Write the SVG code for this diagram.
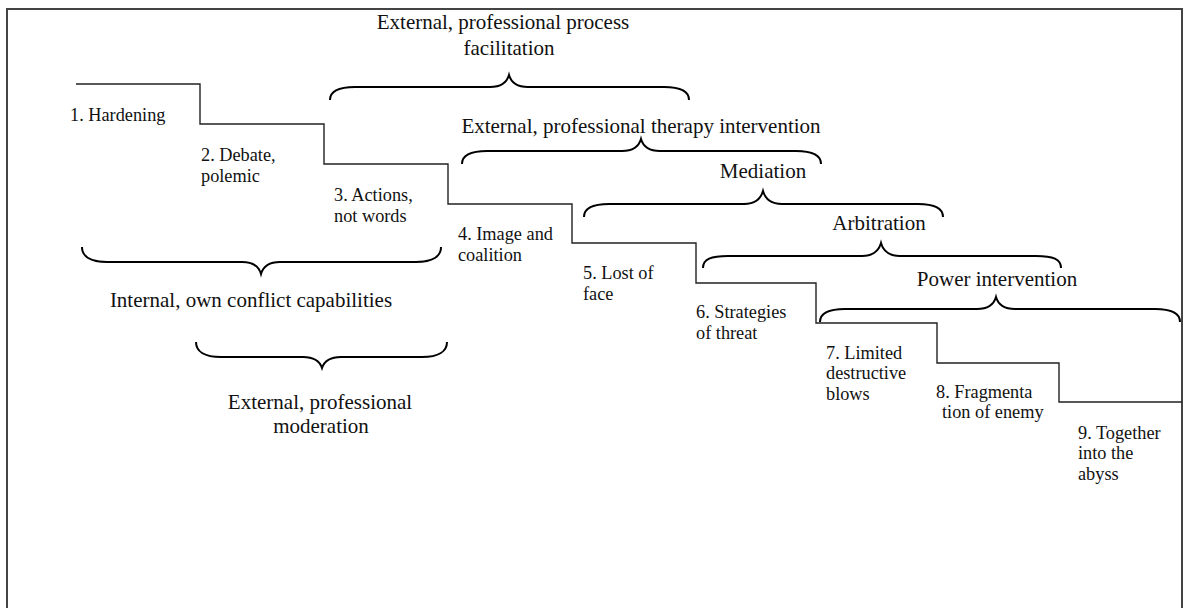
<svg xmlns="http://www.w3.org/2000/svg" width="1184" height="608" viewBox="0 0 1184 608">
<style>
.frame{fill:none;stroke:#444;stroke-width:2}
.stair{fill:none;stroke:#222;stroke-width:1.4}
.brace{fill:none;stroke:#000;stroke-width:2}
.big{font-family:"Liberation Serif","Times New Roman",serif;font-size:21px;fill:#111;text-anchor:middle}
.step{font-family:"Liberation Serif","Times New Roman",serif;font-size:18.3px;fill:#111}
</style>
<rect width="1184" height="608" fill="#fff"/>
<rect class="frame" x="7" y="9" width="1175" height="620"/>
<g id="connectors">
<path id="staircase" class="stair" d="M76,84 H200 V124 H324 V164 H448 V204 H572 V243 H696 V283 H816 V323 H937 V363 H1059 V402 H1182"/>
<path id="brace-process" class="brace" d="M330,100 C330,91 338,87 355,87 L490,87 C502,87 507,82 509,75 C511,82 516,87 528,87 L664,87 C681,87 689,91 689,100"/>
<path id="brace-therapy" class="brace" d="M462,164 C462,155 470,151 487,151 L622,151 C634,151 639,146 641,139 C643,146 648,151 660,151 L796,151 C813,151 821,155 821,164"/>
<path id="brace-mediation" class="brace" d="M584,217 C584,208 592,204 609,204 L744,204 C756,204 761,198 763,191 C765,198 770,204 782,204 L918,204 C935,204 943,208 943,217"/>
<path id="brace-arbitration" class="brace" d="M703,268 C703,259 711,256 728,256 L862,256 C874,256 879,250 881,243 C883,250 888,256 900,256 L1036,256 C1053,256 1061,259 1061,268"/>
<path id="brace-power" class="brace" d="M820,322 C820,313 828,309 845,309 L977,309 C989,309 994,304 996,297 C998,304 1003,309 1015,309 L1155,309 C1172,309 1180,313 1180,322"/>
<path id="brace-internal" class="brace" d="M82,247 C82,256 90,262 107,262 L242,262 C254,262 259,267 261,274 C263,267 268,262 280,262 L416,262 C433,262 441,256 441,247"/>
<path id="brace-moderation" class="brace" d="M196,342 C196,351 204,357 221,357 L303,357 C315,357 320,362 322,368 C324,362 329,357 341,357 L422,357 C439,357 447,351 447,342"/>
</g>
<g id="label-process"><text class="big" x="503" y="29">External, professional process</text><text class="big" x="509" y="55">facilitation</text></g>
<g id="label-therapy"><text class="big" x="641" y="133">External, professional therapy intervention</text></g>
<g id="label-mediation"><text class="big" x="763" y="178">Mediation</text></g>
<g id="label-arbitration"><text class="big" x="879" y="230">Arbitration</text></g>
<g id="label-power"><text class="big" x="997" y="286">Power intervention</text></g>
<g id="label-internal"><text class="big" x="251" y="307">Internal, own conflict capabilities</text></g>
<g id="label-moderation"><text class="big" x="320" y="409">External, professional</text><text class="big" x="321" y="433">moderation</text></g>
<g id="step1"><text class="step" x="70" y="121">1. Hardening</text></g>
<g id="step2"><text class="step" x="201" y="161">2. Debate,</text><text class="step" x="201" y="182">polemic</text></g>
<g id="step3"><text class="step" x="334" y="201">3. Actions,</text><text class="step" x="334" y="222">not words</text></g>
<g id="step4"><text class="step" x="458" y="240">4. Image and</text><text class="step" x="458" y="261">coalition</text></g>
<g id="step5"><text class="step" x="583" y="279">5. Lost of</text><text class="step" x="583" y="300">face</text></g>
<g id="step6"><text class="step" x="696" y="318">6. Strategies</text><text class="step" x="696" y="339">of threat</text></g>
<g id="step7"><text class="step" x="826" y="359">7. Limited</text><text class="step" x="826" y="379">destructive</text><text class="step" x="826" y="400">blows</text></g>
<g id="step8"><text class="step" x="936" y="398">8. Fragmenta</text><text class="step" x="942" y="418">tion of enemy</text></g>
<g id="step9"><text class="step" x="1078" y="439">9. Together</text><text class="step" x="1078" y="459">into the</text><text class="step" x="1078" y="480">abyss</text></g>
</svg>
